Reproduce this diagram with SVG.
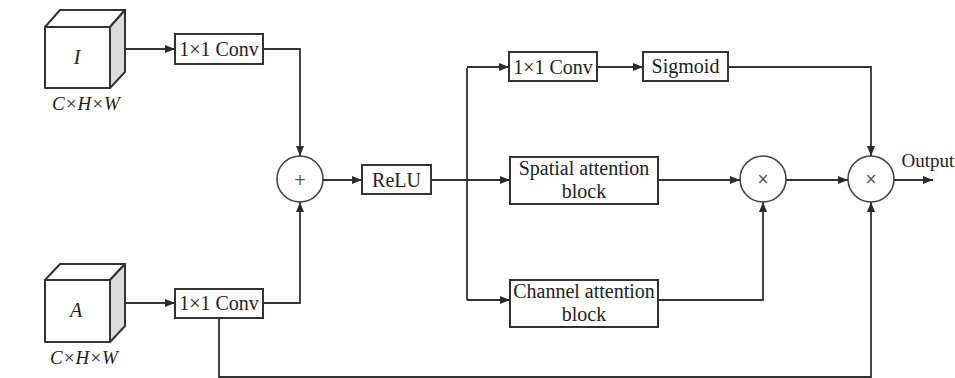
<svg xmlns="http://www.w3.org/2000/svg" width="955" height="378" viewBox="0 0 955 378">
<defs>
<marker id="ah" viewBox="0 0 10 10" refX="10" refY="5" markerWidth="10" markerHeight="10" markerUnits="userSpaceOnUse" orient="auto">
<path d="M0,1 L10,5 L0,9 z" fill="#2b2b2b"/>
</marker>
<style>
.box{fill:#fff;stroke:#333;stroke-width:2}
.cube{fill:#fff;stroke:#333;stroke-width:2;stroke-linejoin:round}
.side{fill:#dcdcdc;stroke:#333;stroke-width:2;stroke-linejoin:round}
.op{fill:#fff;stroke:#444;stroke-width:1.6}
.t{font-family:"Liberation Serif","Times New Roman",serif;font-size:19px;fill:#222;text-anchor:middle}
.b{font-size:20px}
.it{font-style:italic}
.sym{font-family:"DejaVu Sans",sans-serif;font-size:15px;fill:#555;text-anchor:middle}
.c{fill:none;stroke:#333;stroke-width:1.8}
</style>
</defs>
<rect width="955" height="378" fill="#fff"/>

<g id="cubeI">
<path class="cube" d="M45,27 L60,10 L125,10 L110,27 z"/>
<path class="side" d="M110,27 L125,10 L125,72 L110,88 z"/>
<rect class="cube" x="45" y="27" width="65" height="61"/>
<text class="t it b" x="77" y="64">I</text>
<text class="t it" x="86" y="110">C×H×W</text>
</g>

<g id="cubeA">
<path class="cube" d="M45,280 L60,264 L125,264 L110,280 z"/>
<path class="side" d="M110,280 L125,264 L125,326 L110,342 z"/>
<rect class="cube" x="45" y="280" width="65" height="62"/>
<text class="t it b" x="76" y="317">A</text>
<text class="t it" x="84" y="364">C×H×W</text>
</g>

<g id="conv1">
<rect class="box" x="175" y="34" width="88" height="30"/>
<text class="t b" x="219" y="56">1×1 Conv</text>
</g>

<g id="conv2">
<rect class="box" x="175" y="289" width="88" height="29"/>
<text class="t b" x="219" y="310">1×1 Conv</text>
</g>

<g id="plus">
<circle class="op" cx="300" cy="179" r="23"/>
<text class="sym" x="300" y="185">+</text>
</g>

<g id="relu">
<rect class="box" x="362" y="165" width="69" height="29"/>
<text class="t b" x="396.5" y="187">ReLU</text>
</g>

<g id="conv3">
<rect class="box" x="509" y="52" width="88" height="29"/>
<text class="t b" x="553" y="74">1×1 Conv</text>
</g>

<g id="sigmoid">
<rect class="box" x="643" y="52" width="85" height="29"/>
<text class="t b" x="685.5" y="73">Sigmoid</text>
</g>

<g id="spatial">
<rect class="box" x="510" y="157" width="148" height="47"/>
<text class="t b" x="584" y="175">Spatial attention</text>
<text class="t b" x="584" y="198">block</text>
</g>

<g id="channel">
<rect class="box" x="510" y="280" width="148" height="47"/>
<text class="t b" x="584" y="298">Channel attention</text>
<text class="t b" x="584" y="321">block</text>
</g>

<g id="mul1">
<circle class="op" cx="763" cy="179" r="23"/>
<text class="sym" x="763" y="184">×</text>
</g>

<g id="mul2">
<circle class="op" cx="871" cy="179" r="23"/>
<text class="sym" x="871" y="184">×</text>
</g>

<g id="output">
<text class="t" x="928" y="167">Output</text>
</g>

<g id="connectors">
<path class="c" d="M125,49 L175,49" marker-end="url(#ah)"/>
<path class="c" d="M263,49 L300,49 L300,156" marker-end="url(#ah)"/>
<path class="c" d="M125,303 L175,303" marker-end="url(#ah)"/>
<path class="c" d="M263,303 L300,303 L300,202" marker-end="url(#ah)"/>
<path class="c" d="M323,180 L362,180" marker-end="url(#ah)"/>
<path class="c" d="M431,180 L510,180" marker-end="url(#ah)"/>
<path class="c" d="M467,68 L467,300"/>
<path class="c" d="M467,67 L509,67" marker-end="url(#ah)"/>
<path class="c" d="M467,300 L510,300" marker-end="url(#ah)"/>
<path class="c" d="M597,67 L643,67" marker-end="url(#ah)"/>
<path class="c" d="M728,67 L871,67 L871,156" marker-end="url(#ah)"/>
<path class="c" d="M658,180 L740,180" marker-end="url(#ah)"/>
<path class="c" d="M658,300 L763,300 L763,202" marker-end="url(#ah)"/>
<path class="c" d="M786,180 L848,180" marker-end="url(#ah)"/>
<path class="c" d="M219,318 L219,377 L871,377 L871,202" marker-end="url(#ah)"/>
<path class="c" d="M894,180 L933,180" marker-end="url(#ah)"/>
</g>
</svg>
